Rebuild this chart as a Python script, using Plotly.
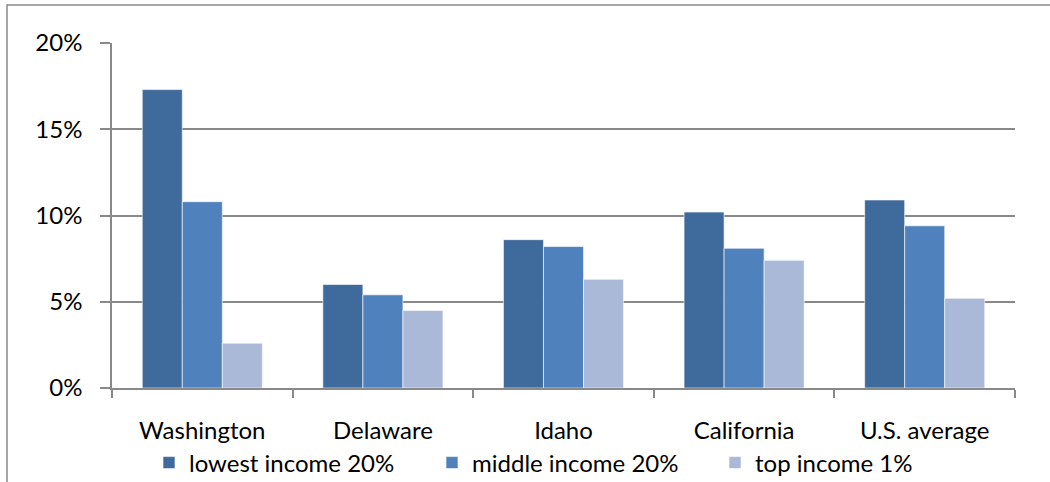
import plotly.graph_objects as go

categories = ["Washington", "Delaware", "Idaho", "California", "U.S. average"]
lowest_20 = [0.173, 0.060, 0.086, 0.102, 0.109]
middle_20 = [0.108, 0.054, 0.082, 0.081, 0.094]
top_1 = [0.026, 0.045, 0.063, 0.074, 0.052]
series_names = ["lowest income 20%", "middle income 20%", "top income 1%"]
colors = ["#3F6A9C", "#4F81BD", "#AAB9D7"]

W, H = 1050, 482
L, R, T, B = 112, 35, 43, 94
pw, ph = W - L - R, H - T - B

fig = go.Figure()
for name, vals, col in zip(series_names, [lowest_20, middle_20, top_1], colors):
    fig.add_trace(go.Bar(
        x=categories, y=vals, name=name,
        marker=dict(color=col, line=dict(color="rgba(255,255,255,0.6)", width=1)),
    ))

fig.update_layout(
    width=W, height=H,
    barmode="group", bargap=0.335, bargroupgap=0,
    plot_bgcolor="white", paper_bgcolor="white",
    margin=dict(l=L, r=R, t=T, b=B, autoexpand=False),
    font=dict(family="Lato, Open Sans, sans-serif", size=24, color="#000000"),
    legend=dict(orientation="h", x=(149 - L) / pw, xanchor="left",
                y=-(463 - (T + ph)) / ph, yanchor="middle",
                bgcolor="rgba(0,0,0,0)",
                font=dict(size=24), itemwidth=30, traceorder="normal",
                entrywidth=238, entrywidthmode="pixels"),
    showlegend=True,
)
fig.update_yaxes(
    range=[0, 0.2], dtick=0.05, tickformat=".0%",
    showgrid=True, gridcolor="#898989", gridwidth=1.5,
    showline=True, linecolor="#898989", linewidth=1.5,
    ticks="outside", ticklen=10, tickcolor="#898989", tickwidth=1.5,
    zeroline=False, ticklabelstandoff=13,
)
fig.update_xaxes(
    showline=True, linecolor="#898989", linewidth=1.5,
    ticks="outside", tickson="boundaries", ticklen=8,
    tickcolor="#898989", tickwidth=1.5, ticklabelstandoff=20,
)
fig.add_shape(type="rect", xref="paper", yref="paper",
              x0=(7 - L) / pw, x1=1.2, y0=-0.6, y1=1 + (T - 5) / ph,
              line=dict(color="#898989", width=1.5), layer="below")

fig.write_html("out.html", config={"displayModeBar": False},
               post_script="document.body.style.margin='0';")
